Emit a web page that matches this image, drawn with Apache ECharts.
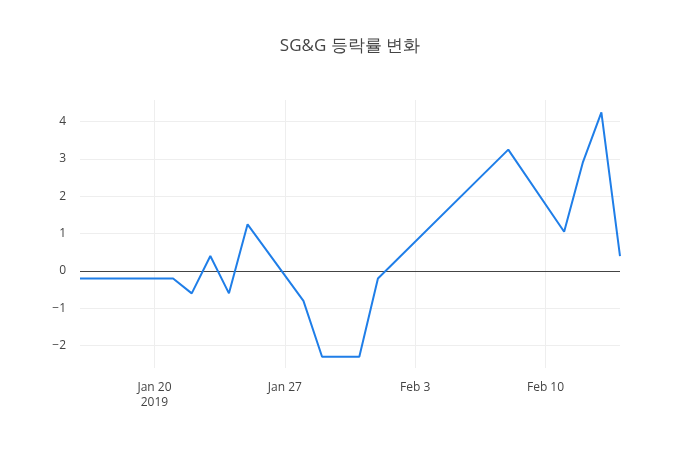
<!DOCTYPE html>
<html>
<head>
<meta charset="utf-8">
<script src="https://cdn.jsdelivr.net/npm/echarts@6/dist/echarts.min.js"></script>
<style>body{margin:0;background:#fff}#chart{width:700px;height:450px}</style>
</head>
<body>
<div id="chart"></div>
<script>
const TITLE = 'SG&G 등락률 변화';
const dates = ['2019-01-16','2019-01-17','2019-01-18','2019-01-21','2019-01-22','2019-01-23','2019-01-24','2019-01-25',
  '2019-01-28','2019-01-29','2019-01-30','2019-01-31','2019-02-01','2019-02-08','2019-02-11','2019-02-12','2019-02-13','2019-02-14'];
const changes = [-0.2,-0.2,-0.2,-0.2,-0.6,0.4,-0.6,1.25,-0.8,-2.3,-2.3,-2.3,-0.2,3.25,1.05,2.9,4.25,0.4];
const tickDays = [0, 7, 14, 21];
const tickLabels = ['Jan 20\n2019', 'Jan 27', 'Feb 3', 'Feb 10'];
const yTicks = [-2, -1, 0, 1, 2, 3, 4];

const BASE = Date.UTC(2019, 0, 20);
const dayOf = s => Math.round((Date.parse(s + 'T00:00:00Z') - BASE) / 86400000);
const points = dates.map((d, i) => [dayOf(d), changes[i]]);

const grid = { type: 'solid', color: '#eeeeee', width: 1 };
const chart = echarts.init(document.getElementById('chart'));
chart.setOption({
  animation: false,
  title: { text: TITLE, left: 'center', top: 33, textStyle: { fontFamily: 'Open Sans', fontSize: 17, fontWeight: 'normal', color: '#444' } },
  grid: { left: 80, right: 80, top: 100, bottom: 82 },
  xAxis: {
    type: 'value', min: -4, max: 25,
    axisLine: { show: false }, axisTick: { show: false }, splitLine: { show: false },
    axisLabel: {
      customValues: tickDays, color: '#444', fontFamily: 'Open Sans', fontSize: 12, margin: 12, lineHeight: 15,
      formatter: v => tickLabels[tickDays.indexOf(v)] || ''
    }
  },
  yAxis: {
    type: 'value', min: -2.6, max: 4.58,
    axisLine: { show: false }, axisTick: { show: false }, splitLine: { show: false },
    axisLabel: { customValues: yTicks, color: '#444', fontFamily: 'Open Sans', fontSize: 12, margin: 14,
      formatter: v => v < 0 ? '\u2212' + Math.abs(v) : String(v) }
  },
  series: [{
    type: 'line', data: points, symbol: 'none',
    lineStyle: { color: '#1f7ee8', width: 2 },
    markLine: {
      silent: true, symbol: 'none', label: { show: false }, z: 1,
      data: [
        ...tickDays.map(d => ({ xAxis: d, lineStyle: grid })),
        ...yTicks.filter(v => v !== 0).map(v => ({ yAxis: v, lineStyle: grid })),
        { yAxis: 0, lineStyle: { type: 'solid', color: '#444', width: 1 } }
      ]
    }
  }]
});
</script>
</body>
</html>
